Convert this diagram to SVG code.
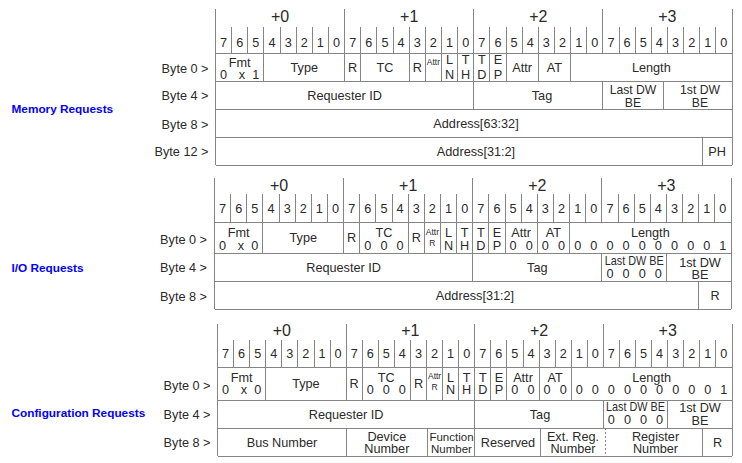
<svg xmlns="http://www.w3.org/2000/svg" width="742" height="463" viewBox="0 0 742 463">
<style>
.g{stroke:#858585;stroke-width:1;fill:none;shape-rendering:crispEdges}
.d{stroke-dasharray:2 2}
text{font-family:"Liberation Sans",Arial,Helvetica,sans-serif;font-size:12.7px;fill:#2a2a2a;text-anchor:middle}
.h{font-size:16px}
.b{text-anchor:end}
.s{font-size:8.5px}
.n{font-size:11.5px}
.t2{font-size:12.2px}
.c{fill:#0000ff;font-weight:bold;font-size:11.8px;text-anchor:start}
</style>
<rect width="742" height="463" fill="#ffffff"/>

<g id="memory-requests">
<text class="c" x="11.5" y="113.3">Memory Requests</text>
<path class="g" d="M215.5 9V165M732 9V165M344.6 9V81M473.7 9V109M602.9 9V53
M231.6 27V53M247.8 27V53M263.9 27V81M280.1 27V53M296.2 27V53M312.3 27V53M328.5 27V53
M360.8 27V81M376.9 27V53M393 27V53M409.2 27V81M425.3 27V81M441.5 27V81M457.6 27V81
M489.9 27V81M506 27V81M522.2 27V53M538.3 27V81M554.4 27V53M570.6 27V81M586.7 27V53
M619 27V53M635.1 27V53M651.3 27V53M667.4 27V53M683.6 27V53M699.7 27V53M715.8 27V53
M602.9 81V109M663 81V109M702 137V165
M215.5 53H732M215.5 81H732M215.5 109H732M215.5 137H732M215.5 165H732"/>
<text class="h" x="280" y="21.5">+0</text>
<text class="h" x="409.2" y="21.5">+1</text>
<text class="h" x="538.3" y="21.5">+2</text>
<text class="h" x="667.4" y="21.5">+3</text>
<text x="223.6 239.7 255.9 272 288.2 304.3 320.4 336.6" y="46.5">76543210</text>
<text x="352.7 368.9 385 401.1 417.3 433.4 449.6 465.7" y="46.5">76543210</text>
<text x="481.8 498 514.1 530.3 546.4 562.5 578.7 594.8" y="46.5">76543210</text>
<text x="611 627.1 643.2 659.4 675.5 691.7 707.8 723.9" y="46.5">76543210</text>
<text class="b" x="208.5" y="72.8">Byte 0 &gt;</text>
<text class="b" x="208.5" y="100.2">Byte 4 &gt;</text>
<text class="b" x="208.5" y="128.5">Byte 8 &gt;</text>
<text class="b" x="208.5" y="156.2">Byte 12 &gt;</text>
<text x="239.7" y="66.5">Fmt</text>
<text x="223.6 242 255.9" y="79">0x1</text>
<text x="304.3" y="71.5">Type</text>
<text x="352.7" y="71.5">R</text>
<text x="385" y="71.5">TC</text>
<text x="417.3" y="71.5">R</text>
<text class="s" x="433.4" y="65">Attr</text>
<text x="449.6" y="64">L</text><text x="449.6" y="79">N</text>
<text x="465.7" y="64">T</text><text x="465.7" y="79">H</text>
<text x="481.8" y="64">T</text><text x="481.8" y="79">D</text>
<text x="498" y="64">E</text><text x="498" y="79">P</text>
<text x="522.2" y="71.5">Attr</text>
<text x="554.4" y="71.5">AT</text>
<text x="651.3" y="71.5">Length</text>
<text x="344.6" y="99.5">Requester ID</text>
<text x="542" y="99.5">Tag</text>
<text class="t2" x="633" y="94.3">Last DW</text>
<text class="t2" x="633" y="107">BE</text>
<text class="t2" x="700" y="94.3">1st DW</text>
<text class="t2" x="700" y="107">BE</text>
<text x="476" y="127.5">Address[63:32]</text>
<text x="476" y="155.5">Address[31:2]</text>
<text x="717" y="155.5">PH</text>
</g>

<g id="io-requests">
<text class="c" x="11.5" y="271.5">I/O Requests</text>
<path class="g" d="M214.5 178V309M731 178V309M343.6 178V253M472.7 178V281M601.9 178V222
M230.6 194V222M246.8 194V222M262.9 194V253M279.1 194V222M295.2 194V222M311.3 194V222M327.5 194V222
M359.8 194V253M375.9 194V222M392 194V222M408.2 194V253M424.3 194V253M440.5 194V253M456.6 194V253
M488.9 194V253M505 194V253M521.2 194V222M537.3 194V253M553.4 194V222M569.6 194V253M585.7 194V222
M618 194V222M634.1 194V222M650.3 194V222M666.4 194V222M682.6 194V222M698.7 194V222M714.8 194V222
M601.9 253V281M666.4 253V281M698.7 281V309
M214.5 222H731M214.5 253H731M214.5 281H731M214.5 309H731"/>
<text class="h" x="279" y="190.5">+0</text>
<text class="h" x="408.2" y="190.5">+1</text>
<text class="h" x="537.3" y="190.5">+2</text>
<text class="h" x="666.4" y="190.5">+3</text>
<text x="222.6 238.7 254.9 271 287.2 303.3 319.4 335.6" y="212.5">76543210</text>
<text x="351.7 367.9 384 400.1 416.3 432.4 448.6 464.7" y="212.5">76543210</text>
<text x="480.8 497 513.1 529.3 545.4 561.5 577.7 593.8" y="212.5">76543210</text>
<text x="610 626.1 642.2 658.4 674.5 690.7 706.8 722.9" y="212.5">76543210</text>
<text class="b" x="207" y="243.5">Byte 0 &gt;</text>
<text class="b" x="207" y="271.8">Byte 4 &gt;</text>
<text class="b" x="207" y="300.5">Byte 8 &gt;</text>
<text x="238.7" y="237">Fmt</text>
<text x="222.6 241 254.9" y="249.5">0x0</text>
<text x="303.3" y="242">Type</text>
<text x="351.7" y="242">R</text>
<text x="384" y="237">TC</text>
<text x="367.9 384 400.1" y="249.5">000</text>
<text x="416.3" y="242">R</text>
<text class="s" x="432.4" y="235">Attr</text>
<text class="s" x="432.4" y="246">R</text>
<text x="448.6" y="237">L</text><text x="448.6" y="249.5">N</text>
<text x="464.7" y="237">T</text><text x="464.7" y="249.5">H</text>
<text x="480.8" y="237">T</text><text x="480.8" y="249.5">D</text>
<text x="497" y="237">E</text><text x="497" y="249.5">P</text>
<text x="521.2" y="237">Attr</text>
<text x="513.1 529.3" y="249.5">00</text>
<text x="553.4" y="237">AT</text>
<text x="545.4 561.5" y="249.5">00</text>
<text x="650.3" y="237">Length</text>
<text x="577.7 593.8 610 626.1 642.2 658.4 674.5 690.7 706.8 722.9" y="249.5">0000000001</text>
<text x="343.6" y="271.5">Requester ID</text>
<text x="537.3" y="271.5">Tag</text>
<text x="634.2" y="265" textLength="59" lengthAdjust="spacingAndGlyphs">Last DW BE</text>
<text x="610 626.1 642.2 658.4" y="277.5">0000</text>
<text x="700" y="266.5">1st DW</text>
<text x="700" y="279">BE</text>
<text x="475" y="299.5">Address[31:2]</text>
<text x="715" y="299.5">R</text>
</g>

<g id="configuration-requests">
<text class="c" x="11.5" y="417.3">Configuration Requests</text>
<path class="g" d="M217.5 324V456M732 324V456M346.1 324V400M474.7 324V428M603.4 324V367
M233.6 340V367M249.7 340V367M265.7 340V400M281.8 340V367M297.9 340V367M314 340V367M330 340V367
M362.2 340V400M378.3 340V367M394.4 340V367M410.4 340V400M426.5 340V400M442.6 340V400M458.7 340V400
M490.8 340V400M506.9 340V400M523 340V367M539.1 340V400M555.1 340V367M571.2 340V400M587.3 340V367
M619.5 340V367M635.5 340V367M651.6 340V367M667.7 340V367M683.8 340V367M699.8 340V367M715.9 340V367
M603.4 400V428M667.7 400V428
M346.1 428V456M427.5 428V456M474.7 428V456M540.5 428V456M702 428V456
M217.5 367H732M217.5 400H732M217.5 428H732M217.5 456H732"/>
<path class="g d" d="M605 428V456"/>
<text class="h" x="281.8" y="336">+0</text>
<text class="h" x="410.4" y="336">+1</text>
<text class="h" x="539.1" y="336">+2</text>
<text class="h" x="667.7" y="336">+3</text>
<text x="225.5 241.6 257.7 273.8 289.8 305.9 322 338.1" y="357.5">76543210</text>
<text x="354.2 370.2 386.3 402.4 418.5 434.6 450.6 466.7" y="357.5">76543210</text>
<text x="482.8 498.9 514.9 531 547.1 563.2 579.3 595.3" y="357.5">76543210</text>
<text x="611.4 627.5 643.6 659.6 675.7 691.8 707.9 723.9" y="357.5">76543210</text>
<text class="b" x="210.5" y="389.5">Byte 0 &gt;</text>
<text class="b" x="210.5" y="418.5">Byte 4 &gt;</text>
<text class="b" x="210.5" y="447.2">Byte 8 &gt;</text>
<text x="241.6" y="381.5">Fmt</text>
<text x="225.5 244 257.7" y="394">0x0</text>
<text x="305.9" y="388">Type</text>
<text x="354.2" y="388">R</text>
<text x="386.3" y="381.5">TC</text>
<text x="370.2 386.3 402.4" y="394">000</text>
<text x="418.5" y="388">R</text>
<text class="s" x="434.6" y="379.3">Attr</text>
<text class="s" x="434.6" y="390">R</text>
<text x="450.6" y="381.5">L</text><text x="450.6" y="394">N</text>
<text x="466.7" y="381.5">T</text><text x="466.7" y="394">H</text>
<text x="482.8" y="381.5">T</text><text x="482.8" y="394">D</text>
<text x="498.9" y="381.5">E</text><text x="498.9" y="394">P</text>
<text x="523" y="381.5">Attr</text>
<text x="514.9 531" y="394">00</text>
<text x="555.1" y="381.5">AT</text>
<text x="547.1 563.2" y="394">00</text>
<text x="651.6" y="381.5">Length</text>
<text x="579.3 595.3 611.4 627.5 643.6 659.6 675.7 691.8 707.9 723.9" y="394">0000000001</text>
<text x="346.1" y="418.5">Requester ID</text>
<text x="540" y="418.5">Tag</text>
<text x="635.5" y="411.3" textLength="59" lengthAdjust="spacingAndGlyphs">Last DW BE</text>
<text x="611.4 627.5 643.6 659.6" y="424">0000</text>
<text x="700" y="412">1st DW</text>
<text x="700" y="424.8">BE</text>
<text x="282" y="446.5">Bus Number</text>
<text x="386.8" y="440.5">Device</text>
<text x="386.8" y="453">Number</text>
<text class="n" x="451.5" y="440.5">Function</text>
<text class="n" x="451.5" y="453">Number</text>
<text x="508" y="446.5">Reserved</text>
<text x="573" y="440.5">Ext. Reg.</text>
<text x="573" y="453">Number</text>
<text x="655.5" y="440.5">Register</text>
<text x="655.5" y="453">Number</text>
<text x="717.5" y="446.5">R</text>
</g>
</svg>
